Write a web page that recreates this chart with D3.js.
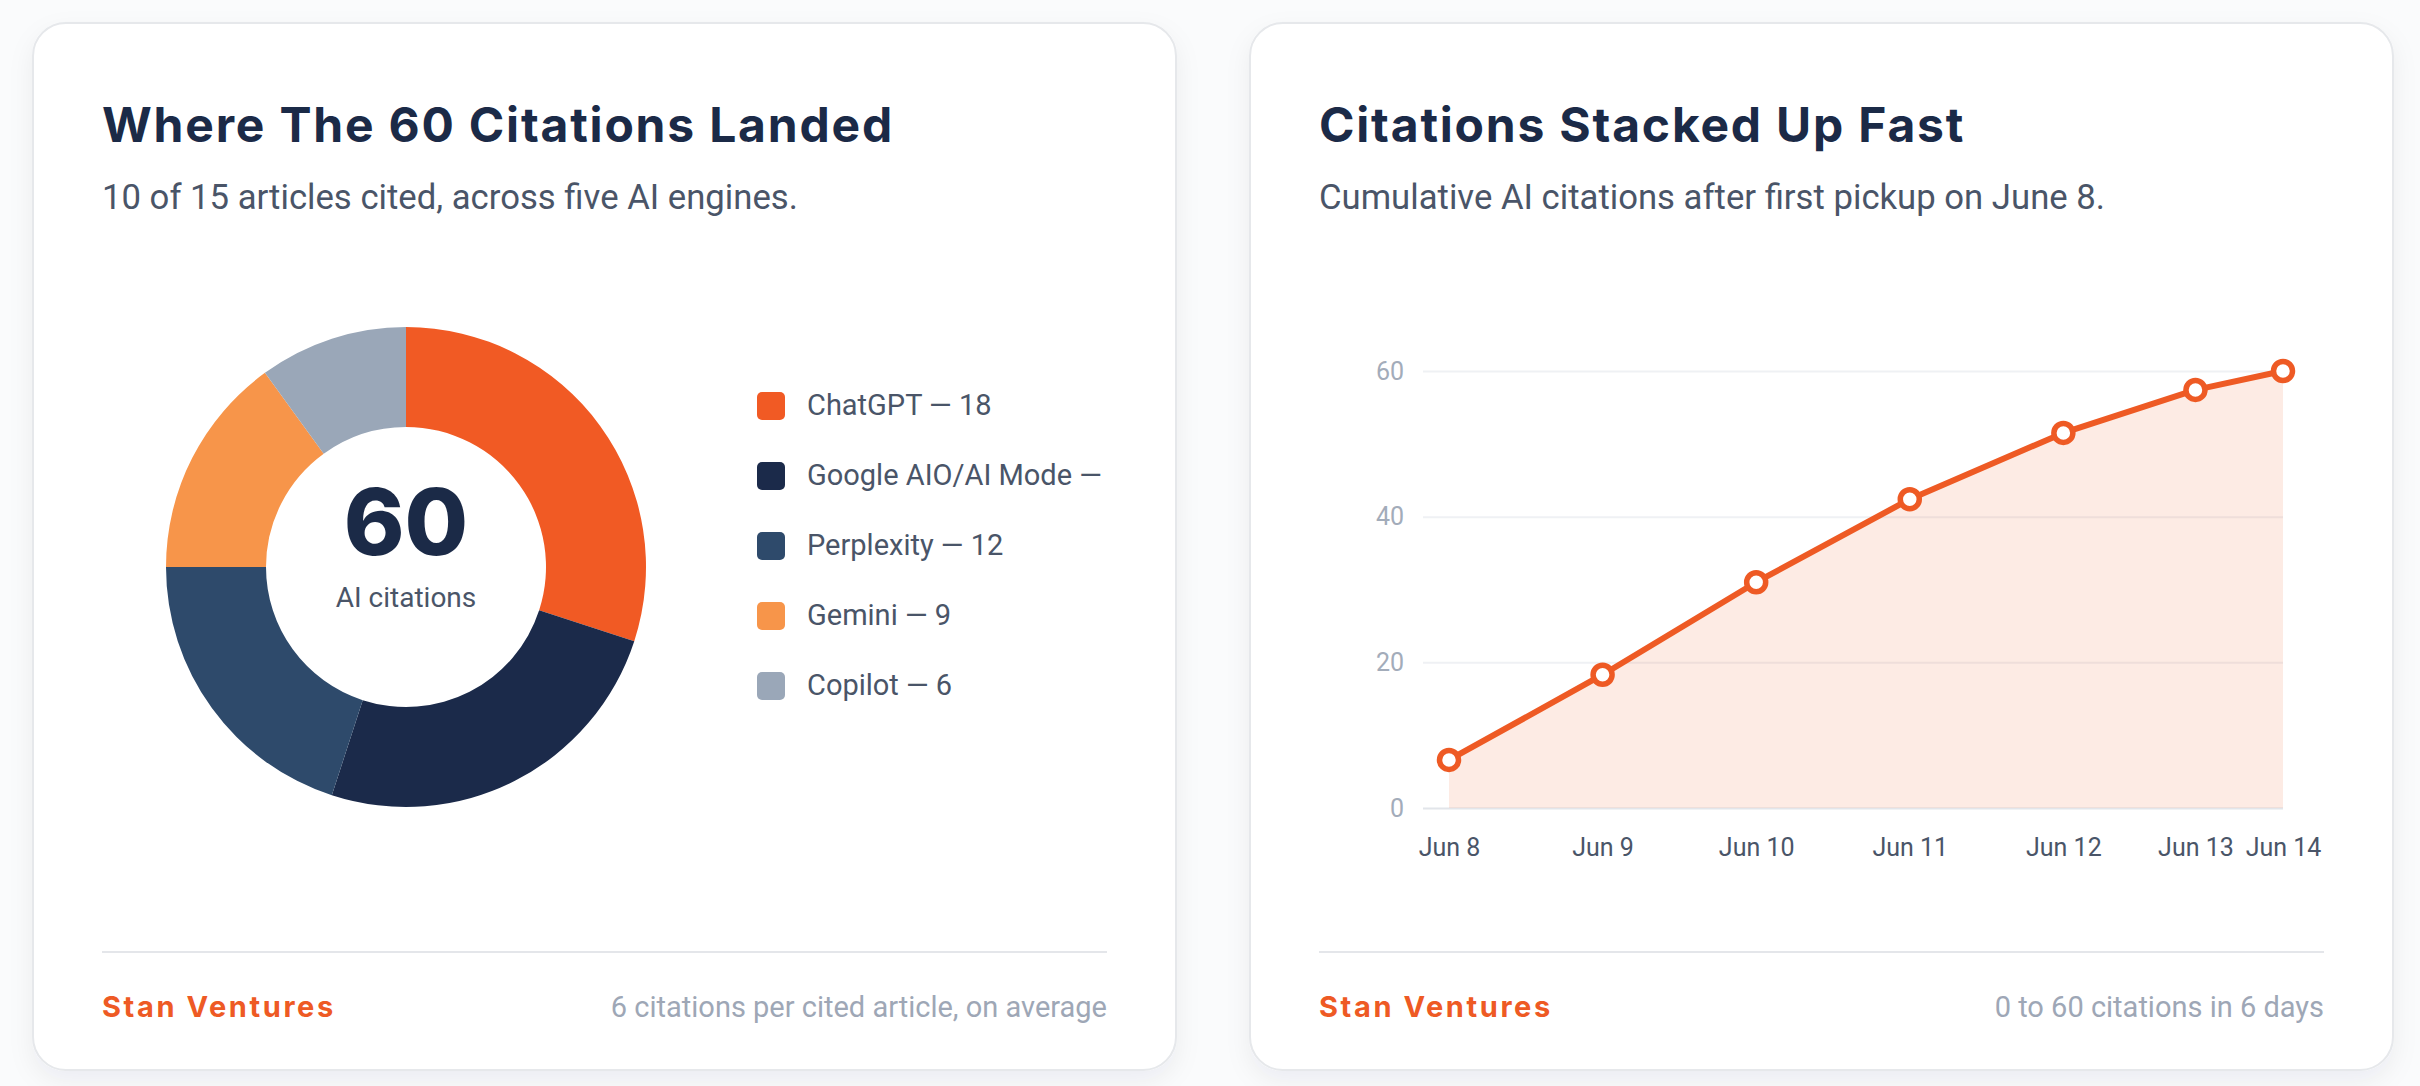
<!DOCTYPE html>
<html>
<head>
<meta charset="utf-8">
<script src="https://cdn.jsdelivr.net/npm/d3@7"></script>
<style>
  html, body { margin: 0; padding: 0; background: #fafbfc; }
  svg { display: block; }
</style>
</head>
<body>
<svg id="chart"></svg>
<script>
var width = 2420;
var height = 1086;

// donut data
var engines = ['ChatGPT', 'Google AIO/AI Mode', 'Perplexity', 'Gemini', 'Copilot'];
var engineCounts = [18, 15, 12, 9, 6];
var engineColors = ['#f15a24', '#1b2a4a', '#2e4a6b', '#f7954a', '#9aa7b8'];

// line data
var dayLabels = ['Jun 8', 'Jun 9', 'Jun 10', 'Jun 11', 'Jun 12', 'Jun 13', 'Jun 14'];
var dayPos = [0, 1, 2, 3, 4, 4.86, 5.43];
var cumulative = [6.6, 18.3, 31, 42.4, 51.5, 57.4, 60];
var yTicks = [0, 20, 40, 60];

var headFont = 'Inter, "Noto Sans", sans-serif';
var bodyFont = 'Roboto, "Noto Sans", sans-serif';

var svg = d3.select('#chart')
  .attr('width', width)
  .attr('height', height);

var defs = svg.append('defs');
var shadow = defs.append('filter')
  .attr('id', 'shadow')
  .attr('x', '-10%').attr('y', '-10%')
  .attr('width', '120%').attr('height', '120%');
shadow.append('feDropShadow')
  .attr('dx', 0).attr('dy', 10)
  .attr('stdDeviation', 12)
  .attr('flood-color', '#1b2a4a')
  .attr('flood-opacity', 0.06);

var cards = [
  {x: 33, title: 'Where The 60 Citations Landed',
    sub: '10 of 15 articles cited, across five AI engines.',
    note: '6 citations per cited article, on average'},
  {x: 1250, title: 'Citations Stacked Up Fast',
    sub: 'Cumulative AI citations after first pickup on June 8.',
    note: '0 to 60 citations in 6 days'}
];
var cardW = 1143;
var cardTop = 23;
var cardH = 1047;
var pad = 69;

cards.forEach(function(c) {
  var g = svg.append('g');
  g.append('rect')
    .attr('x', c.x).attr('y', cardTop)
    .attr('width', cardW).attr('height', cardH)
    .attr('rx', 33)
    .attr('fill', '#fff')
    .attr('stroke', '#e6e8eb')
    .attr('stroke-width', 2)
    .attr('filter', 'url(#shadow)');

  var left = c.x + pad;
  var right = c.x + cardW - pad;

  g.append('text')
    .attr('x', left).attr('y', 142)
    .style('font-family', headFont)
    .style('font-weight', 700)
    .style('font-size', '48px')
    .style('letter-spacing', '1.8px')
    .attr('fill', '#1b2a47')
    .text(c.title);

  g.append('text')
    .attr('x', left).attr('y', 209)
    .style('font-family', bodyFont)
    .style('font-size', '34.7px')
    .attr('fill', '#4a5568')
    .text(c.sub);

  g.append('line')
    .attr('x1', left).attr('x2', right)
    .attr('y1', 952).attr('y2', 952)
    .attr('stroke', '#e4e6ea')
    .attr('stroke-width', 2);

  g.append('text')
    .attr('x', left).attr('y', 1017)
    .style('font-family', headFont)
    .style('font-weight', 700)
    .style('font-size', '29px')
    .style('letter-spacing', '2.6px')
    .attr('fill', '#ee5a24')
    .text('Stan Ventures');

  g.append('text')
    .attr('x', right).attr('y', 1017)
    .style('font-family', bodyFont)
    .style('font-size', '29px')
    .style('text-anchor', 'end')
    .attr('fill', '#9ea7b6')
    .text(c.note);
});

// ---- donut ----
var cx = 406, cy = 567;
var pie = d3.pie().sort(null).value(d => d.value);
var arc = d3.arc().innerRadius(140).outerRadius(240);

var slices = engines.map((name, i) => ({name: name, value: engineCounts[i], color: engineColors[i]}));

var donut = svg.append('g')
  .attr('transform', 'translate(' + cx + ',' + cy + ')');

donut.selectAll('path')
  .data(pie(slices))
  .enter()
  .append('path')
  .attr('d', arc)
  .attr('fill', d => d.data.color);

donut.append('text')
  .attr('y', -12)
  .style('text-anchor', 'middle')
  .style('font-family', headFont)
  .style('font-weight', 800)
  .style('font-size', '92px')
  .attr('fill', '#1b2a47')
  .text(d3.sum(engineCounts));

donut.append('text')
  .attr('y', 40)
  .style('text-anchor', 'middle')
  .style('font-family', bodyFont)
  .style('font-size', '28px')
  .attr('fill', '#4a5568')
  .text('AI citations');

// legend, one line per item; words that overflow wrap out of view
var legendX = 757;
var legendMaxW = 310;
var legend = svg.append('g');
var items = legend.selectAll('g')
  .data(slices)
  .enter()
  .append('g')
  .attr('transform', (d, i) => 'translate(' + legendX + ',' + (392 + i * 70) + ')');

items.append('rect')
  .attr('width', 28).attr('height', 28)
  .attr('rx', 5)
  .attr('fill', d => d.color);

items.append('text')
  .attr('x', 50).attr('y', 23)
  .style('font-family', bodyFont)
  .style('font-size', '29px')
  .attr('fill', '#4a5568')
  .each(function(d) {
    var el = d3.select(this);
    var words = (d.name + ' — ' + d.value).split(' ');
    var line = words[0];
    el.text(line);
    for (var i = 1; i < words.length; i++) {
      el.text(line + ' ' + words[i]);
      if (this.getComputedTextLength() > legendMaxW) break;
      line = line + ' ' + words[i];
    }
    el.text(line);
  });

// ---- line chart ----
var xScale = d3.scaleLinear()
  .domain(d3.extent(dayPos))
  .range([1449, 2283]);

var yScale = d3.scaleLinear()
  .domain([0, 60])
  .range([808, 371]);

var gridLeft = 1423;
var plot = svg.append('g');

var yAxis = d3.axisLeft(yScale)
  .tickValues(yTicks)
  .tickSize(-(xScale.range()[1] - gridLeft))
  .tickPadding(19);

plot.append('g')
  .attr('transform', 'translate(' + gridLeft + ',0)')
  .call(yAxis)
  .call(g => g.select('.domain').remove())
  .call(g => g.selectAll('line')
    .attr('stroke', d => d === 0 ? '#e2e5ea' : '#eff1f4')
    .attr('stroke-width', 2))
  .call(g => g.selectAll('text')
    .style('font-family', bodyFont)
    .style('font-size', '25px')
    .attr('fill', '#a3acba'));

var points = dayPos.map((p, i) => ({x: p, y: cumulative[i], label: dayLabels[i]}));

var area = d3.area()
  .x(d => xScale(d.x))
  .y0(yScale(0))
  .y1(d => yScale(d.y));

plot.append('path')
  .datum(points)
  .attr('d', area)
  .attr('fill', '#f15a24')
  .attr('fill-opacity', 0.12);

var line = d3.line()
  .x(d => xScale(d.x))
  .y(d => yScale(d.y));

plot.append('path')
  .datum(points)
  .attr('d', line)
  .attr('fill', 'none')
  .attr('stroke', '#ee5a24')
  .attr('stroke-width', 6)
  .attr('stroke-linejoin', 'round');

plot.selectAll('circle')
  .data(points)
  .enter()
  .append('circle')
  .attr('cx', d => xScale(d.x))
  .attr('cy', d => yScale(d.y))
  .attr('r', 9.5)
  .attr('fill', '#fff')
  .attr('stroke', '#ee5a24')
  .attr('stroke-width', 5.5);

var xAxis = d3.axisBottom(xScale)
  .tickValues(dayPos)
  .tickFormat((d, i) => dayLabels[i])
  .tickSize(0)
  .tickPadding(30);

plot.append('g')
  .attr('transform', 'translate(0,' + yScale(0) + ')')
  .call(xAxis)
  .call(g => g.select('.domain').remove())
  .call(g => g.selectAll('text')
    .style('font-family', bodyFont)
    .style('font-size', '25px')
    .attr('fill', '#4a5568'));
</script>
</body>
</html>
